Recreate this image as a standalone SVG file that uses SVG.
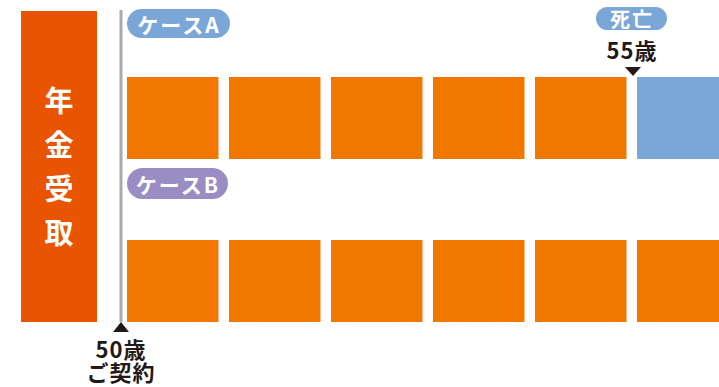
<svg xmlns="http://www.w3.org/2000/svg" width="719" height="387" viewBox="0 0 719 387">
<style>
.sq{fill:#f07800}
.dead{fill:#7aa7d8}
.t{font-family:"Noto Sans CJK JP","Noto Sans",sans-serif;font-weight:bold}
.w{fill:#fff}
.k{fill:#231815}
</style>
<rect width="719" height="387" fill="#fff"/>
<g id="label-bar">
<rect x="21" y="11" width="76" height="311" fill="#e85400"/>
<g class="t w" font-size="29" text-anchor="middle" dominant-baseline="central">
<text x="59" y="99">年</text>
<text x="59" y="143">金</text>
<text x="59" y="187">受</text>
<text x="59" y="231">取</text>
</g>
</g>
<g id="connectors">
<line x1="121" y1="10" x2="121" y2="322" stroke="#aaaaaa" stroke-width="3"/>
<polygon points="121,322 113,332 129,332" fill="#231815"/>
<polygon points="625,67 641,67 633,76" fill="#231815"/>
</g>
<g id="case-a-tag">
<rect x="127" y="9" width="103" height="29" rx="14.5" fill="#7aa7d8"/>
<text class="t w" x="179" y="24" font-size="21" letter-spacing="2" text-anchor="middle" dominant-baseline="central">ケースA</text>
</g>
<g id="case-a">
<rect class="sq" x="127" y="77" width="91.5" height="82"/>
<rect class="sq" x="229" y="77" width="91.5" height="82"/>
<rect class="sq" x="331" y="77" width="91.5" height="82"/>
<rect class="sq" x="433" y="77" width="91.5" height="82"/>
<rect class="sq" x="535" y="77" width="91.5" height="82"/>
<rect class="dead" x="637" y="77" width="82" height="82"/>
</g>
<g id="death-marker">
<rect x="596" y="7" width="71" height="23" rx="11.5" fill="#7aa7d8"/>
<text class="t w" x="632" y="18.5" font-size="20" letter-spacing="2" text-anchor="middle" dominant-baseline="central">死亡</text>
<text class="t k" x="632" y="59" font-size="22" letter-spacing="1" text-anchor="middle">55歳</text>
</g>
<g id="case-b-tag">
<rect x="127" y="168" width="101" height="31" rx="15.5" fill="#9a8dc4"/>
<text class="t w" x="178" y="184" font-size="21" letter-spacing="2" text-anchor="middle" dominant-baseline="central">ケースB</text>
</g>
<g id="case-b">
<rect class="sq" x="127" y="240" width="91.5" height="82"/>
<rect class="sq" x="229" y="240" width="91.5" height="82"/>
<rect class="sq" x="331" y="240" width="91.5" height="82"/>
<rect class="sq" x="433" y="240" width="91.5" height="82"/>
<rect class="sq" x="535" y="240" width="91.5" height="82"/>
<rect class="sq" x="637" y="240" width="82" height="82"/>
</g>
<g id="start-marker" class="t k" font-size="22" text-anchor="middle">
<text x="121" y="358" letter-spacing="1">50歳</text>
<text x="121" y="381" letter-spacing="1">ご契約</text>
</g>
</svg>
